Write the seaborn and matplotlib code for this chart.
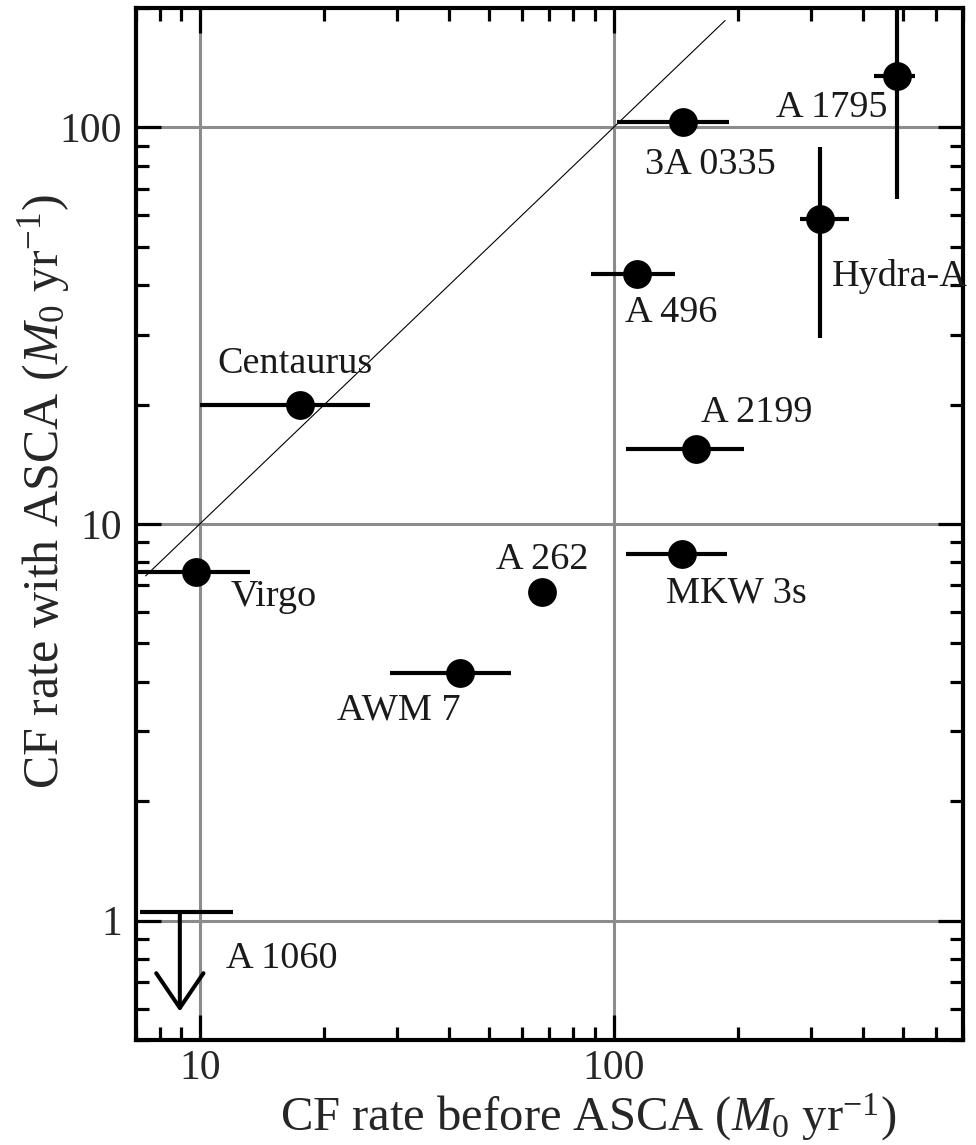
import numpy as np
import pandas as pd
import matplotlib
matplotlib.use("Agg")
import matplotlib.pyplot as plt
import matplotlib.ticker as ticker
import seaborn as sns

# cooling flow rates (M0 / yr), before ASCA vs with ASCA
clusters = ["A 1795", "3A 0335", "Hydra-A", "A 496", "Centaurus", "A 2199",
            "Virgo", "A 262", "AWM 7", "MKW 3s"]
rate_before = [484, 147, 316, 114, 17.5, 158, 9.8, 67, 42.6, 146]
rate_before_lo = [427, 102, 282, 88, 10, 107, 6.5, 67, 28.8, 107]
rate_before_hi = [536, 190, 370, 141, 25.8, 207, 13.2, 67, 56.6, 188]
rate_asca = [135, 103, 58.6, 42.6, 20, 15.5, 7.55, 6.75, 4.22, 8.4]
rate_asca_lo = [66, 103, 29.4, 42.6, 20, 15.5, 7.55, 6.75, 4.22, 8.4]
rate_asca_hi = [300, 103, 89, 42.6, 20, 15.5, 7.55, 6.75, 4.22, 8.4]

# A 1060: upper limit only
limit_name = "A 1060"
limit_before = 8.95
limit_before_lo = 7.16
limit_before_hi = 12.0
limit_asca = 1.05
limit_arrow_to = 0.59

# 1:1 line
equal_x = [7.4, 186]

# label offsets in points (dx, dy, ha)
label_pos = {
    "A 1795": (-6.5, -29.5, "right"),
    "3A 0335": (-27, -37, "left"),
    "Hydra-A": (8.6, -48, "left"),
    "A 496": (-9, -34, "left"),
    "Centaurus": (-60, 23, "left"),
    "A 2199": (4, 19, "left"),
    "Virgo": (24.5, -24.5, "left"),
    "A 262": (-33, 16, "left"),
    "AWM 7": (-89, -34, "left"),
    "MKW 3s": (-11, -35, "left"),
}

df = pd.DataFrame({"cluster": clusters, "before": rate_before,
                   "asca": rate_asca})

sns.set_style("ticks")
plt.rcParams["font.family"] = ["Liberation Serif", "DejaVu Serif"]
plt.rcParams["mathtext.fontset"] = "custom"
plt.rcParams["mathtext.rm"] = "Liberation Serif"
plt.rcParams["mathtext.it"] = "Liberation Serif:italic"

fig = plt.figure(figsize=(9.76, 11.45), dpi=100)
ax = fig.add_axes([0.139, 0.0917, 0.848, 0.9013])
ax.set_xscale("log")
ax.set_yscale("log")
ax.set_xlim(7, 700)
ax.set_ylim(0.5, 200)

ax.grid(True, which="major", color="#8c8c8c", linewidth=2.2)
ax.set_axisbelow(True)

sns.lineplot(x=equal_x, y=equal_x, color="black", linewidth=0.8, ax=ax,
             zorder=2)

xerr = [np.array(rate_before) - np.array(rate_before_lo),
        np.array(rate_before_hi) - np.array(rate_before)]
yerr = [np.array(rate_asca) - np.array(rate_asca_lo),
        np.array(rate_asca_hi) - np.array(rate_asca)]
ax.errorbar(rate_before, rate_asca, xerr=xerr, yerr=yerr, fmt="none",
            ecolor="black", elinewidth=3, capsize=0, zorder=3)

sns.scatterplot(data=df, x="before", y="asca", color="black", s=430,
                linewidth=0, zorder=4, ax=ax, legend=False)

for name, xv, yv in zip(clusters, rate_before, rate_asca):
    dx, dy, ha = label_pos[name]
    ax.annotate(name, (xv, yv), xytext=(dx, dy), textcoords="offset points",
                ha=ha, va="baseline", fontsize=27.5, color="#1a1a1a")

# upper limit
ax.errorbar([limit_before], [limit_asca],
            xerr=[[limit_before - limit_before_lo],
                  [limit_before_hi - limit_before]],
            fmt="none", ecolor="black", elinewidth=3, capsize=0, zorder=3)
ax.annotate("", xy=(limit_before, limit_arrow_to),
            xytext=(limit_before, limit_asca),
            arrowprops=dict(arrowstyle="->,head_length=1.25,head_width=0.85",
                            lw=2.9, color="black", shrinkA=0, shrinkB=0,
                            mutation_scale=20))
ax.annotate(limit_name, (limit_before, limit_asca), xytext=(33, -40),
            textcoords="offset points", ha="left", va="baseline",
            fontsize=27.5, color="#1a1a1a")

ax.xaxis.set_major_locator(ticker.FixedLocator([10, 100]))
ax.yaxis.set_major_locator(ticker.FixedLocator([1, 10, 100]))
fmt = ticker.FuncFormatter(lambda v, p: f"{v:g}")
ax.xaxis.set_major_formatter(fmt)
ax.yaxis.set_major_formatter(fmt)
ax.xaxis.set_minor_locator(ticker.LogLocator(base=10, subs=np.arange(2, 10)))
ax.yaxis.set_minor_locator(ticker.LogLocator(base=10, subs=np.arange(2, 10)))
ax.xaxis.set_minor_formatter(ticker.NullFormatter())
ax.yaxis.set_minor_formatter(ticker.NullFormatter())

ax.tick_params(which="both", direction="in", top=True, right=True,
               color="black", width=2.3)
ax.tick_params(which="major", length=18, labelsize=30, pad=10)
ax.tick_params(axis="x", which="major", pad=7)
ax.tick_params(which="minor", length=9.5)
for s in ax.spines.values():
    s.set_linewidth(3)
    s.set_color("black")

ax.set_xlabel(r"CF rate before ASCA ($M_0$ yr$^{-1}$)", fontsize=35)
ax.set_ylabel(r"CF rate with ASCA ($M_0$ yr$^{-1}$)", fontsize=36)
ax.xaxis.set_label_coords(0.547, -0.05)
ax.yaxis.set_label_coords(-0.077, 0.531)

fig.savefig("out.png", dpi=100)
